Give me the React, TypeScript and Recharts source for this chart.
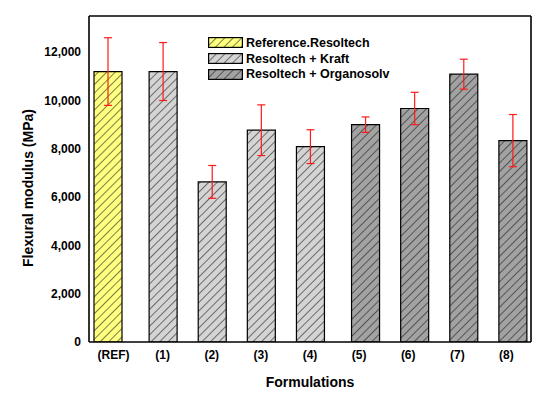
import React from 'react';
import {
  BarChart, Bar, XAxis, YAxis, ErrorBar, Label,
} from 'recharts';

// values (MPa)
const categories = ['(REF)', '(1)', '(2)', '(3)', '(4)', '(5)', '(6)', '(7)', '(8)'];
const groups = ['reference', 'kraft', 'kraft', 'kraft', 'kraft', 'organo', 'organo', 'organo', 'organo'];
const modulus = [11200, 11200, 6630, 8770, 8090, 9000, 9670, 11090, 8340];
const stdDev = [1400, 1200, 680, 1050, 700, 320, 670, 620, 1080];

const yMajorTicks = [0, 2000, 4000, 6000, 8000, 10000, 12000];
const yMinorTicks = [1000, 3000, 5000, 7000, 9000, 11000, 13000];
const xMajorTicks = [0.5, 1.5, 2.5, 3.5, 4.5, 5.5, 6.5, 7.5, 8.5];
const xMinorTicks = [1, 2, 3, 4, 5, 6, 7, 8];

const SERIES = [
  { key: 'reference', label: 'Reference.Resoltech', fill: '#ffff80' },
  { key: 'kraft', label: 'Resoltech + Kraft', fill: '#d4d4d4' },
  { key: 'organo', label: 'Resoltech + Organosolv', fill: '#a2a2a2' },
];

const data = categories.map((name, i) => {
  const row: Record<string, string | number | undefined> = { name };
  row[groups[i]] = modulus[i];
  row[`${groups[i]}Err`] = stdDev[i];
  return row;
});

const FONT = '"Liberation Sans", Arial, sans-serif';
const tickStyle = { fill: '#000', fontSize: 12, fontWeight: 700, fontFamily: FONT };
const AXIS = { stroke: '#000', strokeWidth: 1.6 };
const TINY = 0.001; // mirror axes need a non-zero size to be drawn

function fmt(v: number) {
  return v.toLocaleString('en-US');
}

function renderYTitle(props: any) {
  const vb = props.viewBox || {};
  const x = (vb.x ?? 0) + 33;
  const y = (vb.y ?? 0) + (vb.height ?? 0) / 2 + 9;
  return (
    <text
      x={x} y={y} textAnchor="middle" transform={`rotate(-90, ${x}, ${y})`}
      style={{ fontFamily: FONT, fontSize: 14, fontWeight: 700, fill: '#000' }}
    >
      Flexural modulus (MPa)
    </text>
  );
}

function Patterns() {
  return (
    <svg width={0} height={0} style={{ position: 'absolute' }}>
      <defs>
        {SERIES.map((s) => (
          <pattern
            key={s.key} id={`hatch-${s.key}`} patternUnits="userSpaceOnUse"
            width={6} height={6} patternTransform="rotate(45)"
          >
            <rect width={6} height={6} fill={s.fill} />
            <line x1={0} y1={0} x2={0} y2={6} stroke="#111" strokeWidth={1.1} />
          </pattern>
        ))}
      </defs>
    </svg>
  );
}

export default function App() {
  return (
    <div style={{ position: 'absolute', left: 0, top: 0, width: 550, height: 399, background: '#fff' }}>
      <Patterns />
      <BarChart
        width={550} height={399} data={data}
        margin={{ top: 16, right: 19, bottom: 0, left: 0 }}
        barGap={-22}
      >
        {/* decorative inward ticks / frame */}
        <XAxis xAxisId="topMaj" type="number" domain={[0, 9]} allowDataOverflow orientation="top" mirror
          height={TINY} ticks={xMajorTicks} tick={false} tickSize={6} axisLine={AXIS} tickLine={AXIS} />
        <XAxis xAxisId="topMin" type="number" domain={[0, 9]} allowDataOverflow orientation="top" mirror
          height={TINY} ticks={xMinorTicks} tick={false} tickSize={3} axisLine={false} tickLine={AXIS} />
        <XAxis xAxisId="botMaj" type="number" domain={[0, 9]} allowDataOverflow orientation="bottom" mirror
          height={TINY} ticks={xMajorTicks} tick={false} tickSize={5} axisLine={false} tickLine={AXIS} />
        <XAxis xAxisId="botMin" type="number" domain={[0, 9]} allowDataOverflow orientation="bottom" mirror
          height={TINY} ticks={xMinorTicks} tick={false} tickSize={3} axisLine={false} tickLine={AXIS} />
        <YAxis yAxisId="lMaj" type="number" domain={[0, 13500]} allowDataOverflow orientation="left" mirror
          width={TINY} ticks={yMajorTicks} tick={false} tickSize={6} axisLine={false} tickLine={AXIS} />
        <YAxis yAxisId="lMin" type="number" domain={[0, 13500]} allowDataOverflow orientation="left" mirror
          width={TINY} ticks={yMinorTicks} tick={false} tickSize={3} axisLine={false} tickLine={AXIS} />
        <YAxis yAxisId="rMaj" type="number" domain={[0, 13500]} allowDataOverflow orientation="right" mirror
          width={TINY} ticks={yMajorTicks} tick={false} tickSize={5} axisLine={AXIS} tickLine={AXIS} />
        <YAxis yAxisId="rMin" type="number" domain={[0, 13500]} allowDataOverflow orientation="right" mirror
          width={TINY} ticks={yMinorTicks} tick={false} tickSize={4} axisLine={false} tickLine={AXIS} />

        <XAxis
          xAxisId="x" dataKey="name" height={57} tickLine={false} tickSize={8} tickMargin={0}
          tick={tickStyle} axisLine={AXIS} interval={0}
        >
          <Label value="Formulations" position="insideBottom" offset={12}
            style={{ fontFamily: FONT, fontSize: 14, fontWeight: 700, fill: '#000' }} />
        </XAxis>
        <YAxis
          yAxisId="y" type="number" domain={[0, 13500]} ticks={yMajorTicks} width={89}
          tickFormatter={fmt} tick={tickStyle} tickLine={false} tickSize={8} tickMargin={0}
          axisLine={AXIS} allowDataOverflow
          label={renderYTitle}
        />

        {SERIES.map((s) => (
          <Bar
            key={s.key} xAxisId="x" yAxisId="y" dataKey={s.key} barSize={28}
            fill={`url(#hatch-${s.key})`} stroke="#000" strokeWidth={1.2}
            isAnimationActive={false}
          >
            <ErrorBar dataKey={`${s.key}Err`} width={4} stroke="#ff1a1a" strokeWidth={1.2} />
          </Bar>
        ))}
      </BarChart>

      <div style={{ position: 'absolute', left: 208, top: 35, fontFamily: FONT, fontSize: 12.5, fontWeight: 700 }}>
        {SERIES.map((s) => (
          <div key={s.key} style={{ display: 'flex', alignItems: 'center', height: 15.7 }}>
            <svg width={35} height={11} style={{ marginRight: 3 }}>
              <rect x={0.6} y={0.6} width={33.8} height={9.8} fill={`url(#hatch-${s.key})`} stroke="#000" strokeWidth={1.2} />
            </svg>
            <span>{s.label}</span>
          </div>
        ))}
      </div>
    </div>
  );
}
